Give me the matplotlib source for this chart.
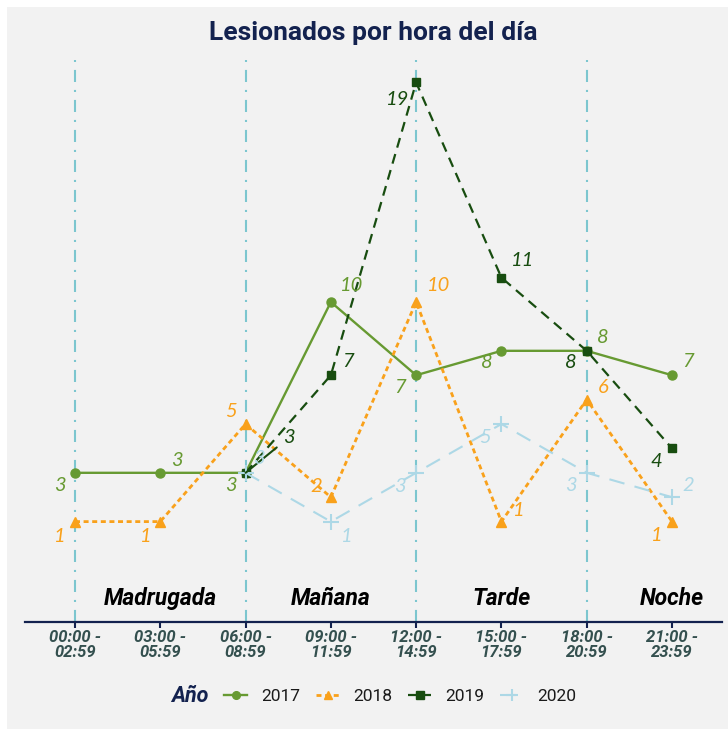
import numpy as np
import matplotlib
matplotlib.use("Agg")
import matplotlib.pyplot as plt
from matplotlib.lines import Line2D
from matplotlib.patches import Rectangle

# ---------------- data ----------------
franjas = ["00:00 -\n02:59", "03:00 -\n05:59", "06:00 -\n08:59", "09:00 -\n11:59",
           "12:00 -\n14:59", "15:00 -\n17:59", "18:00 -\n20:59", "21:00 -\n23:59"]
anios = ["2017", "2018", "2019", "2020"]
v2017 = [3, 3, 3, 10, 7, 8, 8, 7]
v2018 = [1, 1, 5, 2, 10, 1, 6, 1]
v2019 = [np.nan, np.nan, 3, 7, 19, 11, 8, 4]
v2020 = [np.nan, np.nan, 3, 1, 3, 5, 3, 2]
periodos = ["Madrugada", "Mañana", "Tarde", "Noche"]
periodo_pos = [1, 3, 5, 7]
cortes = [0, 2, 4, 6]

# ---------------- styles ----------------
colors = ["#679A32", "#F9A11B", "#184D10", "#ADD8E6"]
styles = [
    dict(ls="-", lw=1.7, marker="o", ms=6.5),
    dict(ls=(0, (1.8, 1.3)), lw=2.0, marker="^", ms=7.5),
    dict(ls=(0, (4.5, 3.0)), lw=1.6, marker="s", ms=6),
    dict(ls=(0, (7.5, 5.0)), lw=1.5, marker="+", ms=11, mew=1.5),
]
# label offsets in pixels (dx right, dy up) relative to each point
offs = [
    [(-15, -13), (17, 12), (-15, -13), (21, 17), (-16, -12), (-15, -12), (16, 13), (16, 14)],
    [(-15, -15), (-15, -15), (-15, 13), (-15, 11), (22, 17), (17, 11), (16, 12), (-15, -14)],
    [None, None, (43, 35), (17, 14), (-19, -17), (21, 17), (-16, -12), (-16, -13)],
    [None, None, (13, 14), (16, -15), (-16, -14), (-16, -13), (-16, -13), (16, 12)],
]
leader = {(2, 2)}

navy = "#13224F"
bg = "#F2F2F2"

fig = plt.figure(figsize=(7.28, 7.29), dpi=100, facecolor="white")
fig.patches.append(Rectangle((7 / 728, 0), 1, 1 - 7 / 729, transform=fig.transFigure,
                             facecolor=bg, edgecolor="none", zorder=-10))

ax = fig.add_axes([25 / 728, 1 - 622 / 729, (722 - 25) / 728, (622 - 60) / 729])
ax.set_facecolor("none")
ax.set_xlim(-0.586, 7.586)
ax.set_ylim(-3.115, 19.92)

x = np.arange(len(franjas))
for c in cortes:
    ax.axvline(c, color="#7CC6CF", lw=1.5, ls=(0, (5.8, 3.8, 1, 3.8)), zorder=1)

series = [v2017, v2018, v2019, v2020]
for i, (vals, col, st) in enumerate(zip(series, colors, styles)):
    ax.plot(x, vals, color=col, zorder=3 + i, **st)

lab_font = dict(family="Lato", style="italic", size=14.5)
px2pt = 0.72
for i, (vals, col) in enumerate(zip(series, colors)):
    for j, v in enumerate(vals):
        if np.isnan(v):
            continue
        dx, dy = offs[i][j]
        kw = dict(xy=(x[j], v), xytext=(dx * px2pt, dy * px2pt),
                  textcoords="offset points", ha="center", va="center",
                  color=col, zorder=10, **lab_font)
        if (i, j) in leader:
            kw["arrowprops"] = dict(arrowstyle="-", color=col, lw=1.5, shrinkA=3, shrinkB=0)
        ax.annotate(str(int(v)), **kw)

for p, xp in zip(periodos, periodo_pos):
    ax.text(xp, -2.42, p, ha="center", va="baseline", family="Roboto",
            weight="bold", style="italic", size=16.5, color="black", zorder=11)

for s in ["left", "right", "top"]:
    ax.spines[s].set_visible(False)
ax.spines["bottom"].set_color(navy)
ax.spines["bottom"].set_linewidth(1.6)
ax.set_yticks([])
ax.set_xticks(x)
ax.set_xticklabels(franjas, family="Roboto", weight="bold", style="italic",
                   size=12, color="#34504F", linespacing=1.0)
ax.tick_params(axis="x", length=4, width=1.5, color=navy, pad=2)

fig.text(373.5 / 728, 1 - 33 / 729, "Lesionados por hora del día", ha="center", va="center",
         family="Roboto", weight="bold", size=19, color=navy)

handles = [Line2D([], [], color=c, **st) for c, st in zip(colors, styles)]
for h in handles:
    h.set_markersize(h.get_markersize() * 0.85)
leg = fig.legend(handles, anios, loc="center", bbox_to_anchor=(400 / 728, 1 - 696 / 729),
                 ncol=4, frameon=False, handlelength=1.35, handletextpad=0.8,
                 columnspacing=0.9, prop=dict(family="Roboto", size=12.5))
for t in leg.get_texts():
    t.set_color("#1A1A1A")
fig.text(190 / 728, 1 - 696 / 729, "Año", ha="center", va="center", family="Roboto",
         weight="bold", style="italic", size=15.5, color=navy)

fig.savefig("out.png", dpi=100, facecolor=fig.get_facecolor())
